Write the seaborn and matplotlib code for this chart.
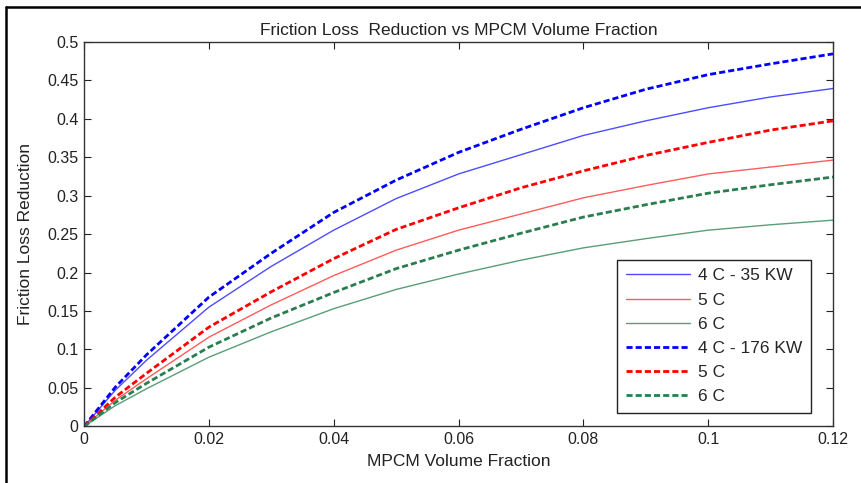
import numpy as np
import pandas as pd
import matplotlib
matplotlib.use("Agg")
import matplotlib.pyplot as plt
import seaborn as sns
from matplotlib.ticker import FormatStrFormatter, MultipleLocator
from matplotlib.lines import Line2D

# values
volume_fraction = [0, 0.005, 0.01, 0.02, 0.03, 0.04, 0.05, 0.06, 0.07, 0.08, 0.09, 0.10, 0.11, 0.12]

kw35_4c = [0, 0.047, 0.086, 0.155, 0.208, 0.255, 0.296, 0.328, 0.353, 0.378, 0.397, 0.414, 0.428, 0.439]
kw35_5c = [0, 0.034, 0.062, 0.116, 0.158, 0.196, 0.229, 0.255, 0.276, 0.297, 0.313, 0.328, 0.337, 0.346]
kw35_6c = [0, 0.027, 0.049, 0.090, 0.123, 0.153, 0.178, 0.198, 0.216, 0.232, 0.244, 0.255, 0.262, 0.268]
kw176_4c = [0, 0.051, 0.093, 0.168, 0.225, 0.278, 0.320, 0.356, 0.386, 0.414, 0.438, 0.457, 0.471, 0.484]
kw176_5c = [0, 0.038, 0.069, 0.129, 0.175, 0.218, 0.256, 0.284, 0.310, 0.332, 0.352, 0.369, 0.385, 0.397]
kw176_6c = [0, 0.031, 0.056, 0.103, 0.141, 0.174, 0.205, 0.229, 0.251, 0.272, 0.288, 0.303, 0.314, 0.324]

labels = ["4 C - 35 KW", "5 C", "6 C", "4 C - 176 KW", "5 C", "6 C"]
series = [kw35_4c, kw35_5c, kw35_6c, kw176_4c, kw176_5c, kw176_6c]
colors = ["#4d4dff", "#ff5c5c", "#5a9e78", "#0000ff", "#ff0000", "#2a7d4f"]
widths = [1.0, 1.0, 1.0, 2.0, 2.0, 2.0]
dashed = [False, False, False, True, True, True]

sns.set_theme(style="white")
plt.rcParams["font.family"] = ["Liberation Sans", "DejaVu Sans"]

fig = plt.figure(figsize=(8.61, 4.83), dpi=100)
ax = fig.add_axes([0.0976, 0.117, 0.8699, 0.797])

handles = []
for lab, vals, col, lw, ds in zip(labels, series, colors, widths, dashed):
    df = pd.DataFrame({"x": volume_fraction, "y": vals})
    sns.lineplot(data=df, x="x", y="y", ax=ax, color=col, linewidth=lw)
    ln = ax.lines[-1]
    if ds:
        ln.set_dashes((2.2, 1.1))
    handles.append(ln)

ax.set_xlim(0, 0.12)
ax.set_ylim(0, 0.5)
ax.xaxis.set_major_locator(MultipleLocator(0.02))
ax.yaxis.set_major_locator(MultipleLocator(0.05))
ax.xaxis.set_major_formatter(FormatStrFormatter("%g"))
ax.yaxis.set_major_formatter(FormatStrFormatter("%g"))
ax.tick_params(direction="in", length=5, width=0.8, top=True, right=True,
               bottom=True, left=True, labelsize=11.5, colors="#222222", pad=4)
for sp in ax.spines.values():
    sp.set_color("#333333")
    sp.set_linewidth(1.0)

ax.set_title("Friction Loss  Reduction vs MPCM Volume Fraction", fontsize=12.5, color="#222222", pad=5)
ax.set_xlabel("MPCM Volume Fraction", fontsize=12.5, color="#222222", labelpad=5)
ax.set_ylabel("Friction Loss Reduction", fontsize=12.5, color="#222222", labelpad=10)

leg = ax.legend(handles, labels, loc="lower right", bbox_to_anchor=(0.9706, 0.035), fontsize=12.5,
                handlelength=3.7, labelspacing=0.52, borderpad=0.5, handletextpad=0.45,
                borderaxespad=0, frameon=True, fancybox=False, framealpha=1)
leg.get_frame().set_edgecolor("#222222")
leg.get_frame().set_linewidth(1.0)

# frame around the figure (left and top)
fig.add_artist(Line2D([0.0065, 0.0065], [0, 0.986], transform=fig.transFigure, color="black", lw=1.8))
fig.add_artist(Line2D([0.0065, 1.0], [0.986, 0.986], transform=fig.transFigure, color="black", lw=1.8))

fig.savefig("out.png", dpi=100, facecolor="white")
